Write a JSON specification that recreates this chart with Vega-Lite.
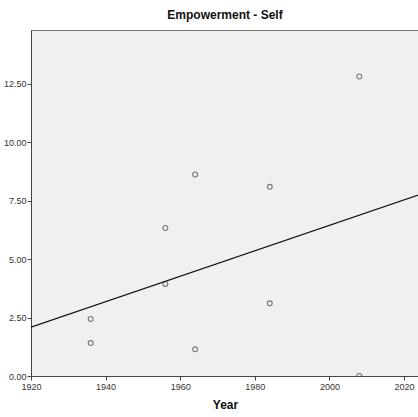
{
  "$schema": "https://vega.github.io/schema/vega-lite/v6.json",
  "autosize": "none",
  "width": 388,
  "height": 346,
  "padding": {"left": 31, "top": 30, "right": 0, "bottom": 41},
  "background": "white",
  "title": {"text": "Empowerment - Self", "font": "Liberation Sans", "fontSize": 12, "fontWeight": "bold", "color": "#111", "anchor": "middle", "offset": 8},
  "config": {
    "view": {"fill": "#f0f0f0", "stroke": "#777", "strokeWidth": 1},
    "axis": {"grid": false, "labelFlush": false, "labelOverlap": false, "labelFont": "Liberation Sans", "labelFontSize": 9, "labelColor": "#333", "tickColor": "#444", "domainColor": "#444", "tickSize": 4, "titleFont": "Liberation Sans", "titleFontSize": 12, "titleFontWeight": "bold", "titleColor": "#111"}
  },
  "data": {"values": [
    {"Year": 1936, "Empowerment": 1.41},
    {"Year": 1936, "Empowerment": 2.44},
    {"Year": 1956, "Empowerment": 6.33},
    {"Year": 1956, "Empowerment": 3.94},
    {"Year": 1964, "Empowerment": 8.62},
    {"Year": 1964, "Empowerment": 1.14},
    {"Year": 1984, "Empowerment": 8.09},
    {"Year": 1984, "Empowerment": 3.11},
    {"Year": 2008, "Empowerment": 12.81},
    {"Year": 2008, "Empowerment": 0.0}
  ]},
  "layer": [
    {
      "mark": {"type": "point", "shape": "circle", "filled": false, "stroke": "#444", "strokeWidth": 1.1, "size": 24, "clip": true},
      "encoding": {
        "x": {"field": "Year", "type": "quantitative", "scale": {"domain": [1920, 2024], "nice": false, "zero": false}, "axis": {"values": [1920, 1940, 1960, 1980, 2000, 2020], "format": "d", "title": "Year", "titlePadding": 8}},
        "y": {"field": "Empowerment", "type": "quantitative", "scale": {"domain": [0, 14.8], "nice": false}, "axis": {"values": [0, 2.5, 5, 7.5, 10, 12.5], "format": ".2f", "title": null, "labelPadding": 1}}
      }
    },
    {
      "transform": [{"regression": "Empowerment", "on": "Year", "extent": [1920, 2024]}],
      "mark": {"type": "line", "color": "#111", "strokeWidth": 1.2, "clip": true},
      "encoding": {
        "x": {"field": "Year", "type": "quantitative"},
        "y": {"field": "Empowerment", "type": "quantitative"}
      }
    }
  ]
}
